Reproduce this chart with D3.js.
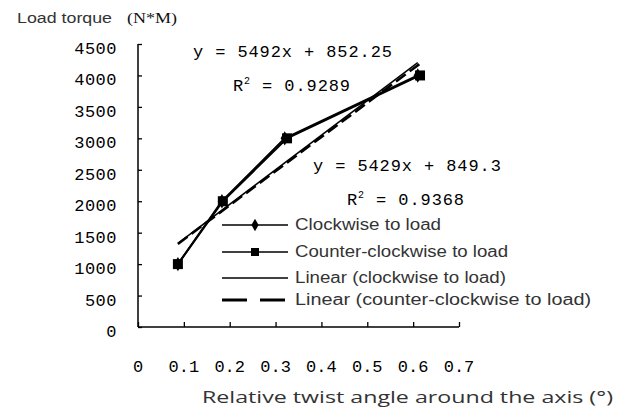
<!DOCTYPE html>
<html lang="en">
<head>
<meta charset="utf-8">
<script src="https://d3js.org/d3.v7.min.js"></script>
<style>
  body { margin: 0; background: #fff; }
  svg { display: block; }
  .mono { font-family: "Liberation Mono", "DejaVu Sans Mono", monospace; font-size: 17px; fill: #000; }
  .sans { font-family: "Liberation Sans", Arial, sans-serif; fill: #333; }
</style>
</head>
<body>
<div id="chart"></div>
<script>
// data
var xTicks = [0, 0.1, 0.2, 0.3, 0.4, 0.5, 0.6, 0.7];
var yTicks = [0, 500, 1000, 1500, 2000, 2500, 3000, 3500, 4000, 4500];

var cwX = [0.087, 0.183, 0.32, 0.61];     // clockwise to load
var cwY = [1000, 2000, 3000, 4000];
var ccwX = [0.087, 0.185, 0.325, 0.615];  // counter-clockwise to load
var ccwY = [1000, 2000, 3000, 4000];

// trendline coefficients as printed on the chart [slope, intercept, R2]
var cwFit = [5492, 852.25, 0.9289];
var ccwFit = [5429, 849.3, 0.9368];

var legendLabels = ["Clockwise to load", "Counter-clockwise to load",
                    "Linear (clockwise to load)", "Linear (counter-clockwise to load)"];

(function() {
    var width = 617, height = 412;

    var svg = d3.select("#chart").append("svg")
        .attr("width", width)
        .attr("height", height);

    var x = d3.scaleLinear().domain([0, 0.7]).range([138, 459]);
    var y = d3.scaleLinear().domain([0, 4500]).range([327, 44]);

    // axes, ticks pointing inward
    svg.append("g")
        .attr("transform", "translate(" + x(0) + ",0)")
        .call(d3.axisRight(y).tickValues(yTicks).tickSize(4).tickFormat(""));
    svg.append("g")
        .attr("transform", "translate(0," + y(0) + ")")
        .call(d3.axisTop(x).tickValues(xTicks).tickSize(5).tickFormat(""));
    svg.selectAll(".domain").remove();
    svg.selectAll(".tick line").attr("stroke", "#000").attr("stroke-width", 1.3);

    svg.append("line")
        .attr("x1", x(0)).attr("x2", x(0))
        .attr("y1", y(4500)).attr("y2", y(0))
        .attr("stroke", "#000").attr("stroke-width", 1.5);
    svg.append("line")
        .attr("x1", x(0)).attr("x2", x(0.7))
        .attr("y1", y(0)).attr("y2", y(0))
        .attr("stroke", "#000").attr("stroke-width", 1.5);

    // tick labels
    svg.selectAll(".ylab")
        .data(yTicks)
        .enter().append("text")
        .attr("class", "mono")
        .attr("x", 117)
        .attr("y", function(d) { return y(d) + 10; })
        .attr("text-anchor", "end")
        .style("letter-spacing", "0.5px")
        .text(function(d) { return d; });

    svg.selectAll(".xlab")
        .data(xTicks)
        .enter().append("text")
        .attr("class", "mono")
        .attr("x", function(d) { return x(d); })
        .attr("y", 372)
        .attr("text-anchor", "middle")
        .text(function(d) { return d; });

    // titles
    svg.append("text")
        .attr("class", "sans")
        .attr("x", 17).attr("y", 23)
        .style("font-size", "14px")
        .attr("textLength", 95)
        .attr("lengthAdjust", "spacingAndGlyphs")
        .text("Load torque");
    svg.append("text")
        .attr("x", 127).attr("y", 23)
        .style("font-family", "Liberation Serif, serif")
        .style("font-size", "15px")
        .attr("textLength", 50)
        .attr("lengthAdjust", "spacingAndGlyphs")
        .attr("fill", "#111")
        .text("(N*M)");
    svg.append("text")
        .attr("x", 202).attr("y", 403)
        .style("font-family", "Open Sans, sans-serif")
        .style("font-size", "17px")
        .attr("fill", "#333")
        .attr("textLength", 411)
        .attr("lengthAdjust", "spacingAndGlyphs")
        .text("Relative twist angle around the axis (°)");

    // trendlines
    function fitLine(xs, fit) {
        var ext = d3.extent(xs);
        return ext.map(function(v) { return [x(v), y(fit[0] * v + fit[1])]; });
    }
    var line = d3.line();

    svg.append("path")
        .attr("d", line(fitLine(cwX, cwFit)))
        .attr("fill", "none").attr("stroke", "#000").attr("stroke-width", 1.5);
    svg.append("path")
        .attr("d", line(fitLine(ccwX, ccwFit)))
        .attr("fill", "none").attr("stroke", "#000").attr("stroke-width", 2.5)
        .attr("stroke-dasharray", "12,5");

    // data series
    var cwPts = cwX.map(function(v, i) { return [x(v), y(cwY[i])]; });
    var ccwPts = ccwX.map(function(v, i) { return [x(v), y(ccwY[i])]; });

    svg.append("path").attr("d", line(cwPts))
        .attr("fill", "none").attr("stroke", "#000").attr("stroke-width", 2);
    svg.append("path").attr("d", line(ccwPts))
        .attr("fill", "none").attr("stroke", "#000").attr("stroke-width", 2);

    var diamond = d3.symbol().type(d3.symbolDiamond).size(60);
    svg.selectAll(".cw")
        .data(cwPts).enter().append("path")
        .attr("d", diamond)
        .attr("transform", function(d) { return "translate(" + d[0] + "," + d[1] + ")"; })
        .attr("fill", "#000");
    svg.selectAll(".ccw")
        .data(ccwPts).enter().append("rect")
        .attr("x", function(d) { return d[0] - 5; })
        .attr("y", function(d) { return d[1] - 5; })
        .attr("width", 10).attr("height", 10)
        .attr("fill", "#000");

    // equations
    function eq(fit, xPos, yPos, rx) {
        svg.append("text").attr("class", "mono")
            .attr("x", xPos).attr("y", yPos)
            .style("letter-spacing", "0.9px")
            .attr("xml:space", "preserve")
            .text("y = " + fit[0] + "x + " + fit[1]);
        var t = svg.append("text").attr("class", "mono")
            .attr("x", rx).attr("y", yPos + 34)
            .style("letter-spacing", "0.9px")
            .attr("xml:space", "preserve");
        t.append("tspan").text("R");
        t.append("tspan").attr("dy", -7).style("font-size", "10px").text("2");
        t.append("tspan").attr("dy", 7).text(" = " + fit[2]);
    }
    eq(cwFit, 193, 57, 233);
    eq(ccwFit, 313, 171, 347);

    // legend
    var lx1 = 222, lx2 = 288, tx = 295;
    var rows = [225, 252, 278, 300];
    var textW = [146, 213, 211, 296];
    var lg = svg.append("g");
    rows.forEach(function(ry, i) {
        var ln = lg.append("line")
            .attr("x1", lx1).attr("x2", lx2)
            .attr("y1", ry).attr("y2", ry)
            .attr("stroke", "#000")
            .attr("stroke-width", i === 3 ? 3 : 1.5);
        if (i === 3) ln.attr("stroke-dasharray", "25,13");
        if (i === 0) lg.append("path").attr("d", d3.symbol().type(d3.symbolDiamond).size(45))
            .attr("transform", "translate(255," + ry + ")").attr("fill", "#000");
        if (i === 1) lg.append("rect").attr("x", 251).attr("y", ry - 4)
            .attr("width", 8).attr("height", 8).attr("fill", "#000");
        lg.append("text").attr("class", "sans")
            .attr("x", tx).attr("y", ry + 5)
            .style("font-size", "16px")
            .attr("textLength", textW[i])
            .attr("lengthAdjust", "spacingAndGlyphs")
            .text(legendLabels[i]);
    });
})();
</script>
</body>
</html>
